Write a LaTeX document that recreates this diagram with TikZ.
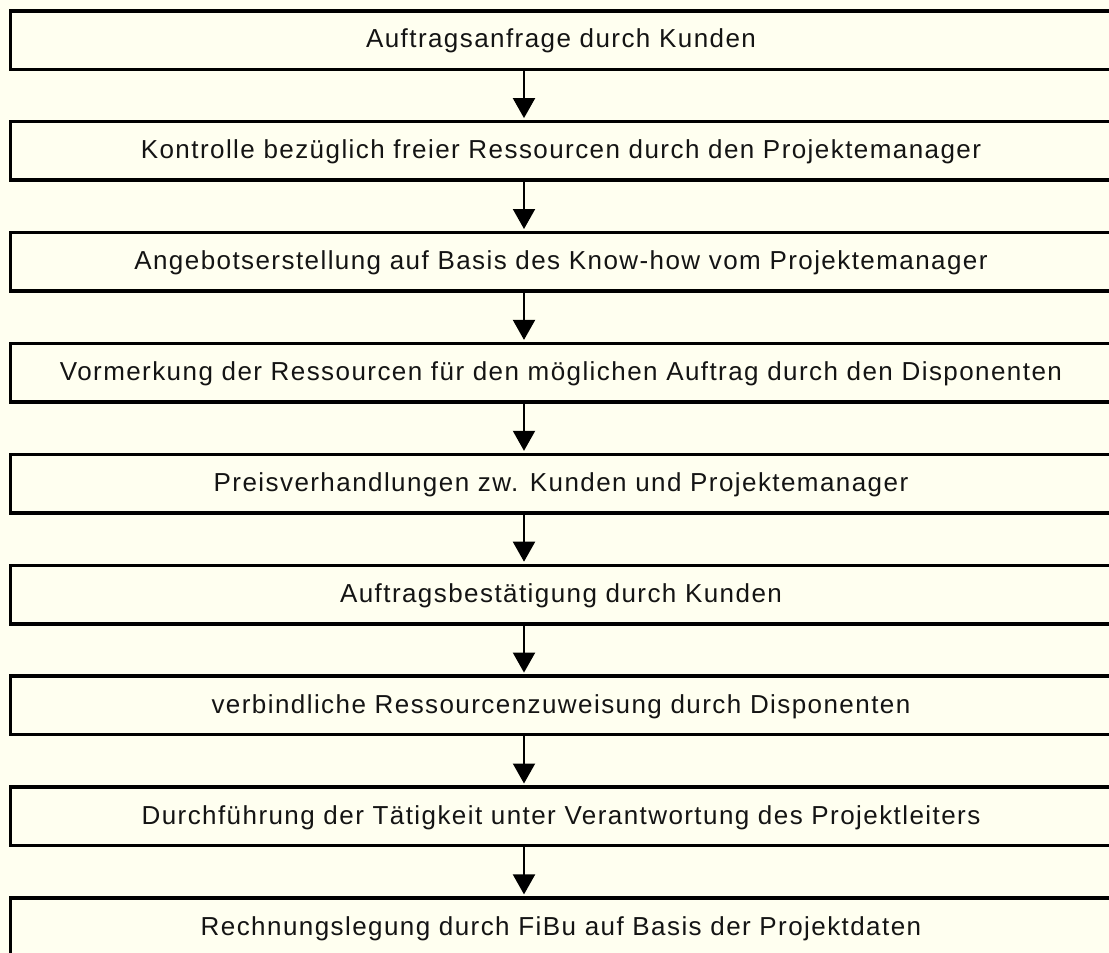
\documentclass[tikz,border=0pt]{standalone}
\usepackage{fontspec}
\setmainfont{Liberation Sans}[LetterSpace=5.5]
\usetikzlibrary{arrows.meta}
\definecolor{paper}{RGB}{255,255,240}
\definecolor{ink}{RGB}{20,20,20}
\tikzset{
  stepbox/.style={draw=black, line width=3.5pt, fill=paper,
    minimum width=1101pt, minimum height=58.5pt, inner sep=0pt,
    text height=18.6pt, text depth=0pt, text=ink,
    font=\fontsize{26}{30}\selectfont},
  flow/.style={draw=black, line width=2pt, shorten >=1.8pt,
    -{Triangle[width=22pt,length=20pt]}}
}
\begin{document}
\begin{tikzpicture}[x=1pt,y=-1pt]
\fill[paper] (0,0) rectangle (1109,953);
\useasboundingbox (0,0) rectangle (1109,953);
\clip (0,0) rectangle (1109,953);
% vertical line along which the arrows run
\coordinate (axis) at (524,0);
\foreach \n/\txt [count=\k from 0] in {
  b1/Auftragsanfrage durch Kunden,
  b2/Kontrolle bezüglich freier Ressourcen durch den Projektemanager,
  b3/Angebotserstellung auf Basis des Know-how vom Projektemanager,
  b4/Vormerkung der Ressourcen für den möglichen Auftrag durch den Disponenten,
  b5/Preisverhandlungen zw. Kunden und Projektemanager,
  b6/Auftragsbestätigung durch Kunden,
  b7/verbindliche Ressourcenzuweisung durch Disponenten,
  b8/Durchführung der Tätigkeit unter Verantwortung des Projektleiters,
  b9/Rechnungslegung durch FiBu auf Basis der Projektdaten}
{
  \node[stepbox] (\n) at (561,{40+110.9*\k}) {\raisebox{1.5pt}{\txt}};
}
\foreach \a/\b in {b1/b2,b2/b3,b3/b4,b4/b5,b5/b6,b6/b7,b7/b8,b8/b9}
  \draw[flow] (\a.south -| axis) -- (\b.north -| axis);
\end{tikzpicture}
\end{document}
